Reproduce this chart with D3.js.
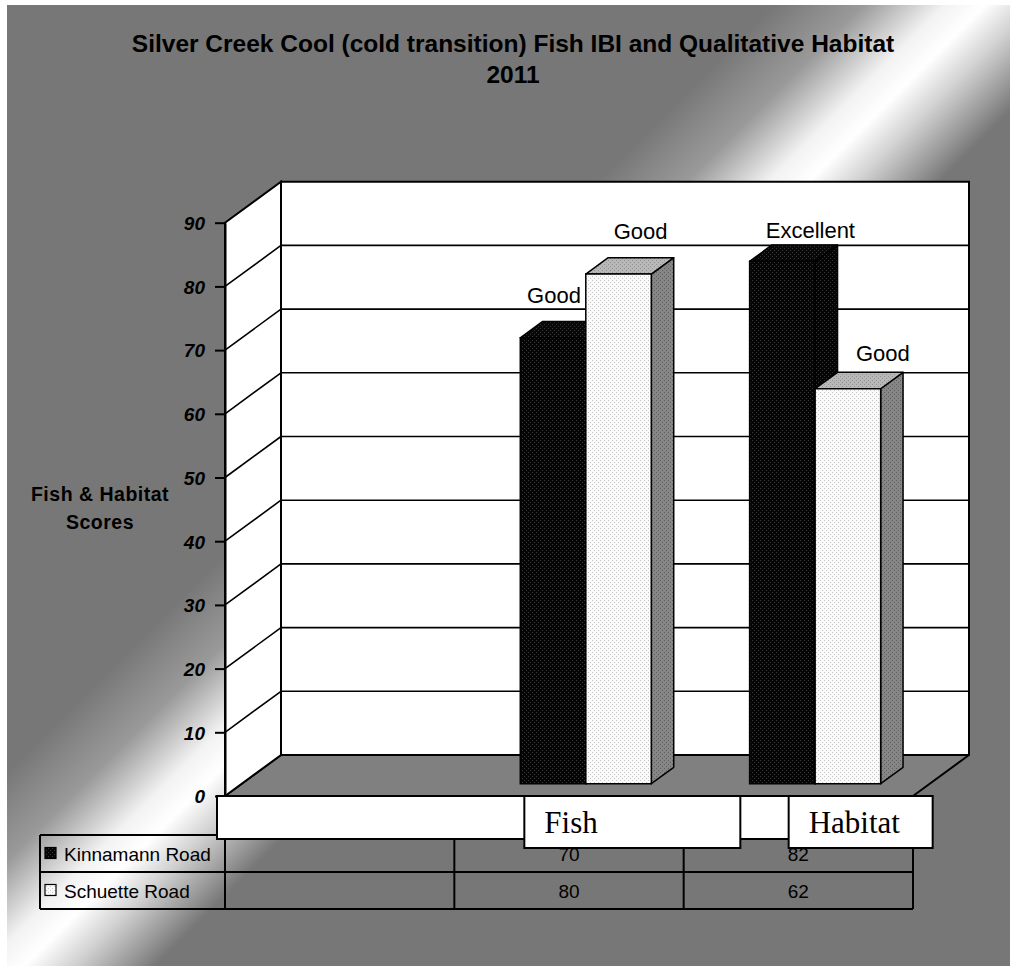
<!DOCTYPE html>
<html>
<head>
<meta charset="utf-8">
<script src="https://cdn.jsdelivr.net/npm/d3@7/dist/d3.min.js"></script>
<style>
html,body{margin:0;padding:0;background:#fff;}
svg{display:block;}
</style>
</head>
<body>
<svg id="chart" width="1010" height="966"></svg>
<script>
// ---------------- data ----------------
const titleLines = ["Silver Creek Cool (cold transition) Fish IBI and Qualitative Habitat", "2011"];
const yAxisTitle = ["Fish & Habitat", "Scores"];
const categories = ["", "Fish", "Habitat"];
const seriesNames = ["Kinnamann Road", "Schuette Road"];
const kinnamannValues = [null, 70, 82];
const schuetteValues = [null, 80, 62];
const kinnamannRatings = ["", "Good", "Excellent"];
const schuetteRatings = ["", "Good", "Good"];
const yTicks = [0, 10, 20, 30, 40, 50, 60, 70, 80, 90];

// ---------------- layout ----------------
const W = 1010, H = 966;
const svg = d3.select("#chart");
const defs = svg.append("defs");
const FONT = "'Liberation Sans', Arial, sans-serif";
const SERIF = "'Liberation Serif', 'Times New Roman', serif";

const plot = {left: 225, right: 913, bottom: 796, top: 222.7};
const depth = {dx: 56, dy: -41};
const barDepth = {d0: 0.3, d1: 0.7};

// background gradient
const grad = defs.append("linearGradient").attr("id", "bg")
  .attr("gradientUnits", "userSpaceOnUse")
  .attr("x1", 0).attr("y1", 0).attr("x2", 1010).attr("y2", 1010);
[[0, "#777"], [0.385, "#777"], [0.43, "#9a9a9a"], [0.47, "#f2f2f2"], [0.49, "#fff"], [0.515, "#d0d0d0"], [0.555, "#777"], [1, "#777"]]
  .forEach(([o, c]) => grad.append("stop").attr("offset", o).attr("stop-color", c));

// patterns
function dotPattern(id, bg, dot) {
  const p = defs.append("pattern").attr("id", id).attr("patternUnits", "userSpaceOnUse")
    .attr("width", 4).attr("height", 4);
  p.append("rect").attr("width", 4).attr("height", 4).attr("fill", bg);
  p.append("rect").attr("x", 0).attr("y", 0).attr("width", 1).attr("height", 1).attr("fill", dot);
  p.append("rect").attr("x", 2).attr("y", 2).attr("width", 1).attr("height", 1).attr("fill", dot);
}
dotPattern("kFront", "#050505", "#3a3a3a");
dotPattern("kTop", "#080808", "#3a3a3a");
dotPattern("kSide", "#050505", "#333");
dotPattern("sFront", "#fafafa", "#c4c4c4");
dotPattern("sTop", "#b8b8b8", "#909090");
dotPattern("sSide", "#868686", "#5e5e5e");

svg.append("rect").attr("x", 0).attr("y", 0).attr("width", W).attr("height", H).attr("fill", "#fff");
svg.append("rect").attr("x", 7).attr("y", 5).attr("width", W - 7).attr("height", H - 5).attr("fill", "url(#bg)");

// scales
const x = d3.scaleBand().domain(categories).range([plot.left, plot.right]).paddingInner(0).paddingOuter(0);
const xs = d3.scaleBand().domain(seriesNames).range([0, x.bandwidth()]).paddingInner(0).paddingOuter(0.75);
const y = d3.scaleLinear().domain([0, 90]).range([plot.bottom, plot.top]);

const off = d => [depth.dx * d, depth.dy * d];
const pt = (px, py, d) => [px + depth.dx * d, py + depth.dy * d];
const poly = pts => pts.map(p => p.join(",")).join(" ");

// ---------------- walls ----------------
const walls = svg.append("g");
// floor
walls.append("polygon")
  .attr("points", poly([pt(plot.left, y(0), 0), pt(plot.left, y(0), 1), pt(plot.right, y(0), 1), pt(plot.right, y(0), 0)]))
  .attr("fill", "#808080").attr("stroke", "#000").attr("stroke-width", 2).attr("stroke-linejoin", "round");
// back wall
walls.append("polygon")
  .attr("points", poly([pt(plot.left, y(0), 1), pt(plot.left, y(90), 1), pt(plot.right, y(90), 1), pt(plot.right, y(0), 1)]))
  .attr("fill", "#fff").attr("stroke", "#000").attr("stroke-width", 2);
// left wall
walls.append("polygon")
  .attr("points", poly([pt(plot.left, y(0), 0), pt(plot.left, y(90), 0), pt(plot.left, y(90), 1), pt(plot.left, y(0), 1)]))
  .attr("fill", "#fff").attr("stroke", "#000").attr("stroke-width", 2);

// gridlines
const gridVals = yTicks.filter(v => v > 0 && v < 90);
walls.selectAll("line.gb").data(gridVals).enter().append("line")
  .attr("x1", d => pt(plot.left, y(d), 1)[0]).attr("y1", d => pt(plot.left, y(d), 1)[1])
  .attr("x2", d => pt(plot.right, y(d), 1)[0]).attr("y2", d => pt(plot.right, y(d), 1)[1])
  .attr("stroke", "#000").attr("stroke-width", 1.6);
walls.selectAll("line.gl").data(gridVals).enter().append("line")
  .attr("x1", d => pt(plot.left, y(d), 0)[0]).attr("y1", d => pt(plot.left, y(d), 0)[1])
  .attr("x2", d => pt(plot.left, y(d), 1)[0]).attr("y2", d => pt(plot.left, y(d), 1)[1])
  .attr("stroke", "#000").attr("stroke-width", 1.6);

// y axis
const yAxis = d3.axisLeft(y).tickValues(yTicks).tickFormat(d3.format("d")).tickSize(10).tickSizeOuter(0).tickPadding(10);
const ag = svg.append("g").attr("transform", `translate(${plot.left},0)`).call(yAxis);
ag.select(".domain").attr("stroke", "#000").attr("stroke-width", 2);
ag.selectAll(".tick line").attr("stroke", "#000").attr("stroke-width", 2);
ag.selectAll(".tick text").attr("font-family", FONT).attr("font-size", 19).attr("font-weight", "bold")
  .attr("font-style", "italic").attr("fill", "#000").attr("dy", "0.36em");

// ---------------- bars ----------------
const series = [
  {name: seriesNames[0], values: kinnamannValues, ratings: kinnamannRatings, front: "url(#kFront)", top: "url(#kTop)", side: "url(#kSide)"},
  {name: seriesNames[1], values: schuetteValues, ratings: schuetteRatings, front: "url(#sFront)", top: "url(#sTop)", side: "url(#sSide)"}
];
const bars = [];
categories.forEach((c, ci) => {
  series.forEach((s, si) => {
    const v = s.values[ci];
    if (v == null) return;
    bars.push({cat: c, ci, si, s, v, rating: s.ratings[ci]});
  });
});

const barG = svg.append("g");
bars.forEach(b => {
  const x0 = x(b.cat) + xs(b.s.name);
  const x1 = x0 + xs.bandwidth();
  const yb = y(0), yt = y(b.v);
  const d0 = barDepth.d0, d1 = barDepth.d1;
  const g = barG.append("g");
  // right side
  g.append("polygon").attr("points", poly([pt(x1, yb, d0), pt(x1, yt, d0), pt(x1, yt, d1), pt(x1, yb, d1)]))
    .attr("fill", b.s.side).attr("stroke", "#000").attr("stroke-width", 1.5).attr("stroke-linejoin", "round");
  // top
  g.append("polygon").attr("points", poly([pt(x0, yt, d0), pt(x0, yt, d1), pt(x1, yt, d1), pt(x1, yt, d0)]))
    .attr("fill", b.s.top).attr("stroke", "#000").attr("stroke-width", 1.5).attr("stroke-linejoin", "round");
  // front
  g.append("polygon").attr("points", poly([pt(x0, yb, d0), pt(x0, yt, d0), pt(x1, yt, d0), pt(x1, yb, d0)]))
    .attr("fill", b.s.front).attr("stroke", "#000").attr("stroke-width", 1.5);
});

// data labels (manually nudged like the original text boxes)
const labelNudge = [[[0, 0], [1, -35], [28, -23]], [[0, 0], [22, -35], [35, -28]]];
barG.selectAll("text.lab").data(bars).enter().append("text")
  .attr("x", b => pt(x(b.cat) + xs(b.s.name) + xs.bandwidth() / 2, 0, barDepth.d0)[0] + labelNudge[b.si][b.ci][0])
  .attr("y", b => pt(0, y(b.v), barDepth.d0)[1] + labelNudge[b.si][b.ci][1])
  .attr("text-anchor", "middle").attr("font-family", FONT).attr("font-size", 22).attr("fill", "#000")
  .text(b => b.rating);

// ---------------- data table ----------------
const table = svg.append("g");
const tbl = {left: 40, top: 835, row: 37, rows: 2};
const rowY = i => tbl.top + i * tbl.row;
// horizontal lines
[0, 1, 2].forEach(i => {
  table.append("line").attr("x1", tbl.left).attr("x2", plot.right)
    .attr("y1", rowY(i)).attr("y2", rowY(i)).attr("stroke", "#000").attr("stroke-width", 2);
});
// vertical lines
[tbl.left, ...categories.map(c => x(c)), plot.right].forEach(vx => {
  table.append("line").attr("x1", vx).attr("x2", vx).attr("y1", rowY(0)).attr("y2", rowY(2))
    .attr("stroke", "#000").attr("stroke-width", 2);
});
series.forEach((s, si) => {
  const cy = rowY(si) + tbl.row / 2;
  table.append("rect").attr("x", 45).attr("y", cy - 6).attr("width", 11).attr("height", 11)
    .attr("fill", s.front).attr("stroke", "#000").attr("stroke-width", 1.2);
  table.append("text").attr("x", 64).attr("y", cy + 7).attr("font-family", FONT).attr("font-size", 19)
    .attr("fill", "#000").text(s.name);
  categories.forEach((c, ci) => {
    const v = s.values[ci];
    if (v == null) return;
    table.append("text").attr("x", x(c) + x.bandwidth() / 2).attr("y", cy + 7).attr("text-anchor", "middle")
      .attr("font-family", FONT).attr("font-size", 19).attr("fill", "#000").text(v);
  });
});

// category label strip & boxes
const cat = svg.append("g");
cat.append("rect").attr("x", 217).attr("y", plot.bottom).attr("width", 580).attr("height", 43)
  .attr("fill", "#fff").attr("stroke", "#000").attr("stroke-width", 2);
const catBoxes = [{c: "Fish", dx: 70, w: 216}, {c: "Habitat", dx: 105, w: 144}];
catBoxes.forEach(b => {
  const bx = x(b.c) + b.dx;
  cat.append("rect").attr("x", bx).attr("y", plot.bottom).attr("width", b.w).attr("height", 52)
    .attr("fill", "#fff").attr("stroke", "#000").attr("stroke-width", 2);
  cat.append("text").attr("x", bx + 20).attr("y", plot.bottom + 37).attr("font-family", SERIF)
    .attr("font-size", 31).attr("fill", "#000").text(b.c);
});

// ---------------- titles ----------------
svg.append("g").selectAll("text").data(titleLines).enter().append("text")
  .attr("x", 513).attr("y", (d, i) => 52 + i * 31).attr("text-anchor", "middle")
  .attr("font-family", FONT).attr("font-size", 24.5).attr("font-weight", "bold").attr("fill", "#000")
  .text(d => d);

svg.append("g").selectAll("text").data(yAxisTitle).enter().append("text")
  .attr("x", 100).attr("y", (d, i) => 501 + i * 28).attr("text-anchor", "middle")
  .attr("font-family", FONT).attr("font-size", 19.5).attr("font-weight", "bold").attr("fill", "#000")
  .attr("letter-spacing", 0.5)
  .text(d => d);
</script>
</body>
</html>
